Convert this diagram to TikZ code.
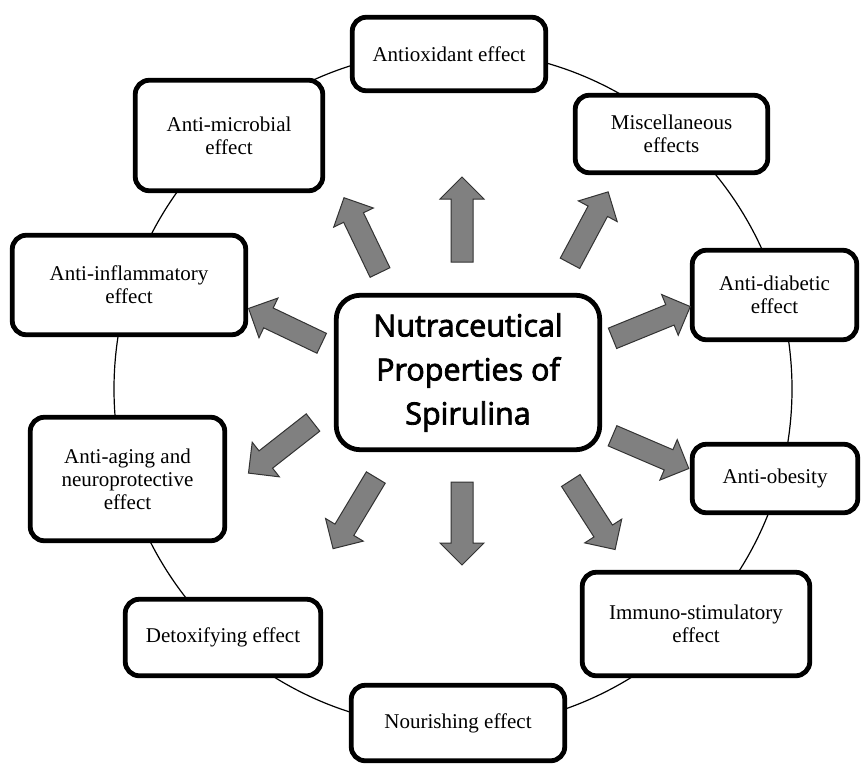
\documentclass[tikz,border=0pt]{standalone}
\usepackage{fontspec}
\setmainfont{Liberation Serif}
\newfontfamily\headfont[FakeBold=2.6]{Open Sans}
\begin{document}
\begin{tikzpicture}[x=1pt,y=-1pt,
  effbox/.style={draw=black, line width=4.8pt, rounded corners=14pt, fill=white,
    align=center, inner sep=0pt, font=\fontsize{21}{23}\selectfont},
  hubbox/.style={draw=black, line width=4.8pt, rounded corners=24pt, fill=white,
    align=center, inner sep=0pt, font=\headfont\fontsize{30.5}{44}\selectfont},
  ring/.style={draw=black, line width=1.2pt},
  blockarrow/.style={draw=black!80, line width=1pt, fill=black!50, line join=miter}]
\useasboundingbox (0,0) rectangle (861,764);
\coordinate (ringc) at (453,389);
\draw[ring] (ringc) circle [radius=339];

\node[effbox, minimum width=193.5pt, minimum height=73.5pt] (antiox) at (449,54) {Antioxidant effect};
\node[effbox, minimum width=187.5pt, minimum height=110.5pt] (micro) at (229,135.5) {Anti-microbial\\effect};
\node[effbox, minimum width=192.5pt, minimum height=77.5pt] (misc) at (671.5,134) {Miscellaneous\\effects};
\node[effbox, minimum width=233.5pt, minimum height=99.5pt] (inflam) at (129,285) {Anti-inflammatory\\effect};
\node[effbox, minimum width=164.5pt, minimum height=89.5pt] (diab) at (774.5,295) {Anti-diabetic\\effect};
\node[effbox, minimum width=165.5pt, minimum height=68.5pt] (obes) at (775,478.5) {Anti-obesity};
\node[effbox, minimum width=227.5pt, minimum height=103.5pt] (immuno) at (696,624) {Immuno-stimulatory\\effect};
\node[effbox, minimum width=213.5pt, minimum height=75.5pt] (nour) at (458,723) {Nourishing effect};
\node[effbox, minimum width=195.5pt, minimum height=76.5pt] (detox) at (223,637.5) {Detoxifying effect};
\node[effbox, minimum width=194.5pt, minimum height=123.5pt] (aging) at (127.5,479) {Anti-aging and\\neuroprotective\\effect};
\node[hubbox, minimum width=263.5pt, minimum height=154.5pt] (hub) at (468,372.5) {Nutraceutical\\Properties of\\Spirulina};

\foreach \tx/\ty/\ang/\len in {
  462/262/90/85, 462/482/-90/83,
  380/272.5/115.7/83, 570/263.3/61.9/81,
  321.7/343.3/154.5/81, 313/422.5/218.1/82,
  375.8/477.5/239/83, 570.8/480.5/-57.3/82,
  612.5/338.3/22.2/84, 612.5/435.8/-23.2/83}{
  \begin{scope}[shift={(\tx,\ty)}, rotate=\ang]
    \draw[blockarrow] (0,-11) -- ({\len-22},-11) -- ({\len-22},-22) -- (\len,0)
      -- ({\len-22},22) -- ({\len-22},11) -- (0,11) -- cycle;
  \end{scope}
}
\end{tikzpicture}
\end{document}
